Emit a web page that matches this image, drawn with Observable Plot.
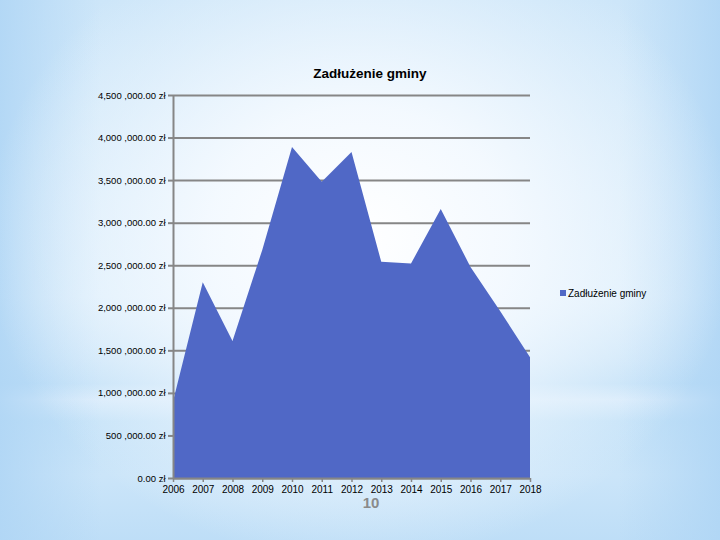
<!DOCTYPE html>
<html>
<head>
<meta charset="utf-8">
<script src="https://cdn.jsdelivr.net/npm/d3@7"></script>
<script src="https://cdn.jsdelivr.net/npm/@observablehq/plot@0.6"></script>
<style>
  html, body { margin: 0; padding: 0; }
  body {
    width: 720px; height: 540px; overflow: hidden; position: relative;
    font-family: "Liberation Sans", Arial, sans-serif;
    background:
      radial-gradient(ellipse 52% 60% at 50% 44%, rgba(255,255,255,1) 0%, rgba(245,250,255,0.95) 40%, rgba(235,245,253,0.5) 75%, rgba(255,255,255,0) 100%),
      linear-gradient(to right, rgba(176,214,245,0.9) 0%, rgba(176,214,245,0) 14%, rgba(176,214,245,0) 86%, rgba(176,214,245,0.9) 100%),
      linear-gradient(to bottom, #cde6f9 0%, #deeffc 55%, #cbe5f9 66%, #bfdff7 71%, #d8ebfb 74%, #c4e2f8 78%, #cbe5f9 88%, #bedef7 100%);
  }
  #chart { position: absolute; left: 0; top: 0; }
  #title { position: absolute; left: 0; width: 740px; top: 66px; text-align: center;
    font-weight: bold; font-size: 13.5px; color: #000; }
  #legend { position: absolute; left: 560px; top: 288px; font-size: 10px; color: #000; white-space: nowrap; }
  #legend span.sw { display: inline-block; width: 6px; height: 6px; background: #5068c6; margin-right: 2px; vertical-align: 1px; }
  #page { position: absolute; left: 0; width: 742px; top: 495px; text-align: center; line-height: 1;
    font-family: "Liberation Sans Narrow", "Liberation Sans", Arial, sans-serif; font-weight: bold;
    font-size: 15px; color: #8a8a8a; }
</style>
</head>
<body>
<div id="chart"></div>
<div id="title">Zadłużenie gminy</div>
<div id="legend"><span class="sw"></span>Zadłużenie gminy</div>
<div id="page">10</div>
<script>
const years = [2006, 2007, 2008, 2009, 2010, 2011, 2012, 2013, 2014, 2015, 2016, 2017, 2018];
const debt = [900000, 2300000, 1610000, 2680000, 3890000, 3480000, 3830000, 2540000, 2520000, 3160000, 2480000, 1960000, 1420000];
const yTicks = [0, 500000, 1000000, 1500000, 2000000, 2500000, 3000000, 3500000, 4000000, 4500000];

const data = years.map((y, i) => ({year: y, value: debt[i]}));

const fmtY = d => {
  if (d === 0) return "0.00 zł";
  const s = d3.format(",.2f")(d);           // e.g. 4,500,000.00
  const k = s.lastIndexOf(",");
  return s.slice(0, k) + " " + s.slice(k) + " zł"; // as drawn: 4,500 ,000.00 zł
};

const grid = "#868686";

const chart = Plot.plot({
  width: 720,
  height: 540,
  marginLeft: 173,
  marginRight: 190,
  marginTop: 95,
  marginBottom: 62,
  style: { background: "transparent", fontFamily: "Liberation Sans, Arial, sans-serif", color: "#000", overflow: "visible" },
  x: { domain: [2006, 2018] },
  y: { domain: [0, 4500000] },
  marks: [
    Plot.gridY(yTicks, { stroke: grid, strokeWidth: 2, strokeOpacity: 1 }),
    Plot.areaY(data, { x: "year", y: "value", fill: "#5068c6" }),
    Plot.ruleX([2006], { stroke: grid, strokeWidth: 2 }),
    Plot.ruleY([0], { stroke: grid, strokeWidth: 2 }),
    Plot.axisY({ ticks: yTicks, tickFormat: fmtY, tickSize: 5, tickPadding: 3, stroke: grid, strokeWidth: 2, fill: "#000", fontSize: 9.5, label: null }),
    Plot.axisX({ ticks: years, tickFormat: d => String(d), tickSize: 4, tickPadding: 3, stroke: grid, strokeWidth: 1.5, fill: "#000", fontSize: 10, label: null })
  ]
});
document.getElementById("chart").appendChild(chart);
</script>
</body>
</html>
